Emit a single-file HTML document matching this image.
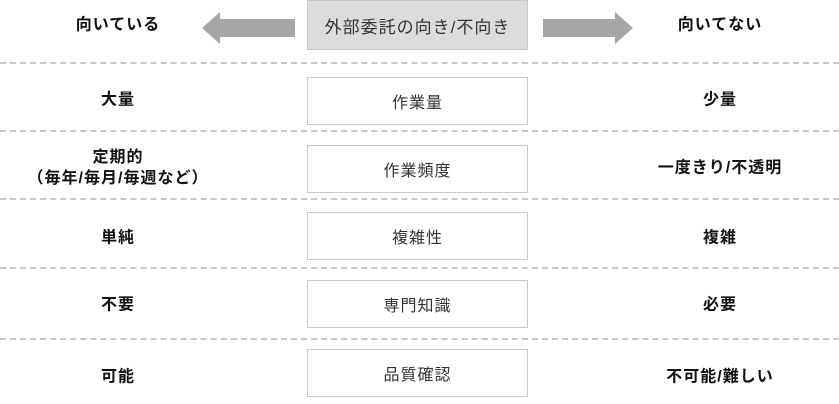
<!DOCTYPE html>
<html><head><meta charset="utf-8"><style>
body{margin:0;width:839px;height:404px;background:#fff;position:relative;overflow:hidden;font-family:"Liberation Sans","Noto Sans CJK JP",sans-serif;color:#111}
.b{position:absolute;left:307px;width:221px;border:1px solid #c8c8c8;box-sizing:border-box;display:flex;align-items:center;justify-content:center;font-size:16px;letter-spacing:1px;color:#333}
.l,.r{position:absolute;width:240px;text-align:center;font-weight:bold;font-size:16px;letter-spacing:1px;line-height:21px;transform:translateY(-50%)}
.l{left:-2px}.r{left:600px}
.d{position:absolute;left:0;width:839px;height:0;border-top:2px dashed #c8c8c8}
</style></head><body>
<div class="b" style="top:0;height:50px;background:#dcdcdc;font-size:17px">外部委託の向き/不向き</div>
<svg style="position:absolute;left:0;top:0" width="839" height="60">
<polygon points="202,28 220,12 220,19 295,19 295,37 220,37 220,44" fill="#a6a6a6"/>
<polygon points="633,28 615,12 615,19 543,19 543,37 615,37 615,44" fill="#a6a6a6"/>
</svg>
<div class="l" style="top:25px">向いている</div>
<div class="r" style="top:25px">向いてない</div>
<div class="d" style="top:62px"></div>
<div class="d" style="top:130px"></div>
<div class="d" style="top:198px"></div>
<div class="d" style="top:267px"></div>
<div class="d" style="top:338px"></div>
<div class="b" style="top:77px;height:48px">作業量</div>
<div class="b" style="top:145px;height:48px">作業頻度</div>
<div class="b" style="top:212px;height:48px">複雑性</div>
<div class="b" style="top:280px;height:48px">専門知識</div>
<div class="b" style="top:349px;height:48px">品質確認</div>
<div class="l" style="top:100px">大量</div><div class="r" style="top:100px">少量</div>
<div class="l" style="top:168px">定期的<br>（毎年/毎月/毎週など）</div><div class="r" style="top:168px">一度きり/不透明</div>
<div class="l" style="top:238px">単純</div><div class="r" style="top:238px">複雑</div>
<div class="l" style="top:305px">不要</div><div class="r" style="top:305px">必要</div>
<div class="l" style="top:377px">可能</div><div class="r" style="top:377px">不可能/難しい</div>
</body></html>
